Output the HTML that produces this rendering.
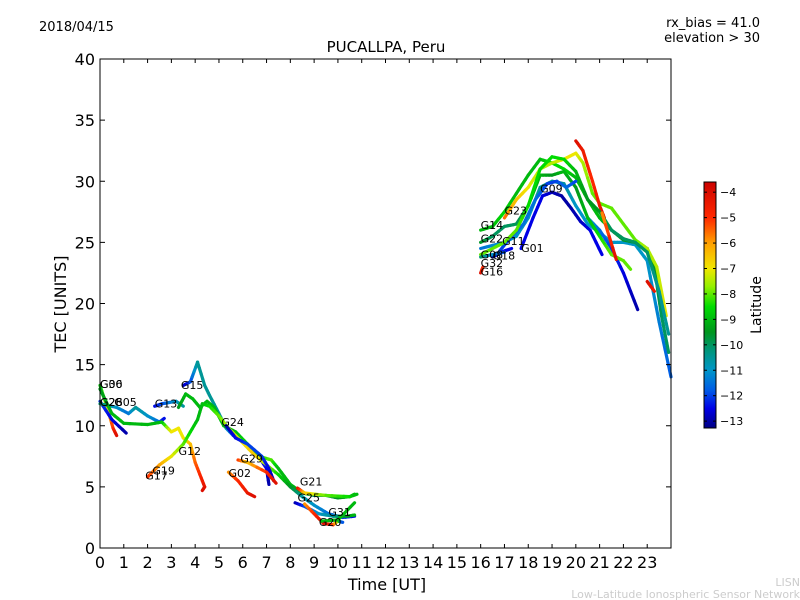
<!DOCTYPE html>
<html><head><meta charset="utf-8"><style>
body{margin:0;background:#fff;}
svg{display:block;font-family:"DejaVu Sans","Liberation Sans",sans-serif;}
</style></head><body>
<svg id="chart" width="800" height="600">
<rect width="800" height="600" fill="#fff"/>
<text x="39" y="31" font-size="13">2018/04/15</text>
<text x="760" y="27" font-size="13" text-anchor="end">rx_bias = 41.0</text>
<text x="760" y="42" font-size="13" text-anchor="end">elevation &gt; 30</text>
<text x="386" y="52" font-size="15" text-anchor="middle">PUCALLPA, Peru</text>
<g id="marks"></g>
<g id="labels"></g>
<rect x="100" y="59" width="571" height="489" fill="none" stroke="#000" stroke-width="1"/>
<g id="axes"></g>
<text x="387" y="590" font-size="16" text-anchor="middle">Time [UT]</text>
<text transform="translate(66,304) rotate(-90)" font-size="16" text-anchor="middle">TEC [UNITS]</text>
<g id="cbar"></g>
<text transform="translate(761,305) rotate(-90)" font-size="14" text-anchor="middle">Latitude</text>
<text x="800" y="586" font-size="11" fill="#ccc" text-anchor="end">LISN</text>
<text x="800" y="598" font-size="11" fill="#ccc" text-anchor="end">Low-Latitude Ionospheric Sensor Network</text>
</svg>
<script>
const xTicks=[0,1,2,3,4,5,6,7,8,9,10,11,12,13,14,15,16,17,18,19,20,21,22,23];
const yTicks=[0,5,10,15,20,25,30,35,40];
const cbTicks=[-4,-5,-6,-7,-8,-9,-10,-11,-12,-13];
const trackNames=["G30","G26","G05","G06","G13","G15","G12","G17","G24","G29","G02","G21","G25","G20","G31",
"G09","G01","G01b","G14","G23","G05r","G22","G11","G07","G18","G16","G08","G23b","G10"];
const trackTimes=[
[0,0.3,0.55,0.7],
[0,0.5,1.1],
[0,0.7,1.2,1.5,2,2.5,2.7],
[0,0.5,1,2,2.6,3,3.3,3.5,3.8,4,4.2,4.4,4.3],
[2.3,2.6,3.2,3.5],
[3.5,3.8,4.1,4.4,4.6,5,5.3,5.6,6,6.5,7,7.1],
[3.3,3.6,3.9,4.2,4.5,4.8,5.2,5.7,6.2,6.7,7.2,7.5,8,8.5,9,9.5,10,10.5,10.8],
[2,2.5,3,3.5,3.8,4.1,4.3,4.6,5,5.4,6,6.5,7,7.5,8,8.5,9,9.6,10.2,10.7],
[5.3,5.7,6.2,6.8,7.1,7.3],
[5.8,6.2,7,7.4],
[5.4,5.8,6.2,6.5],
[8.3,8.6,9.5,10.5,10.7],
[8.2,8.6,9.2,9.8,10.4,10.7],
[8.6,9,9.4,9.8,10,10.2],
[9.3,10,10.7],
[17.7,18.2,18.6,19,19.4,19.8,20.2,20.6,21.1],
[16,17,17.5,18,18.5,19,19.5,20,20.5,21,21.5,22,22.5,23,23.5,24],
[20.5,21,21.5,22,22.6],
[16,16.5,17,17.5,18,18.5,19,19.5,20,20.5,21,21.5,22,22.5,23,23.3,23.6,23.9],
[17,17.5,18,18.5,19,19.5,20,20.3,20.7,21,21.5,22,22.5,23,23.4,23.8],
[20,20.3,20.7,21,21.2],
[16,16.5,17,17.5,18,18.5,19,19.5,20,20.5,21,21.5,22,22.3],
[16.8,17.3,17.8,18.3,18.8,19.2,19.6,20],
[16,16.5,17,17.5,18,18.5,19,19.5,20,20.5,21,21.5,22,22.5,23,23.5,23.9],
[16.5,17,17.3],
[16,16.1],
[16,16.5,17],
[21.1,21.7],
[23,23.3]
];
const trackTec=[
[13.3,11.5,9.8,9.2],
[12,10.5,9.4],
[11.8,11.5,11,11.5,10.8,10.3,10.6],
[13,11,10.2,10.1,10.3,9.5,9.8,9,8.5,7,6,5,4.7],
[11.6,11.8,12,11.6],
[13.3,13.6,15.2,13.3,12.5,11,9.8,9.2,8.7,8,6.5,5.2],
[11.5,12.6,12.2,11.5,12,11.5,10,9.5,8.5,7.5,7.2,6.5,5.2,4.5,4.3,4.3,4.1,4.2,4.4],
[5.8,6.8,7.5,8.5,9.5,10.5,11.8,11.6,10.8,9.8,8.6,7.6,6.8,6,5,4.2,3.5,2.8,2.5,2.6],
[10,9,8.5,7.5,6.5,5.5],
[7.2,7,6.2,5.3],
[6.2,5.5,4.5,4.2],
[4.9,4.5,4.3,4.2,4.4],
[3.7,3.4,2.8,2.6,2.6,2.7],
[3.6,2.8,2,1.9,2.2,2.1],
[2.2,2.3,3.7],
[24.5,27,28.8,29.1,28.8,27.8,26.7,26,24],
[24.5,25,25.5,27,29.5,30,29.8,28,26.5,25.8,25,25,24.8,23.5,18.5,14],
[27,26,24.5,22.5,19.5],
[26,26.3,27.5,29,30.5,31.8,31.5,31,30.3,28.5,27,26,25.2,25,24.5,23,19,16],
[27,28.5,29.5,31,31.5,31.8,32.3,31.5,29,28.2,27.8,26.5,25.2,24.5,23,19],
[33.3,32.5,30,28,27],
[25,25.5,26.3,26.5,28,30.5,30.5,30.8,29.5,27,25.5,24,23.5,22.8],
[24.3,25.5,26.5,28.5,29.8,30,29.5,30],
[24,24.5,25,26,28,31,32,31.8,30.8,28.5,27.5,26,25.3,25,24.2,21,17.5],
[23.8,24.3,24.5],
[22.5,23],
[23.8,24,24.2],
[27.4,23.6],
[21.8,21]
];
const trackLat=[
[-9,-7,-5,-4],
[-12,-12.5,-13],
[-10,-11,-11.5,-10.5,-11,-11.5,-12.5],
[-9.5,-9,-9,-9,-9,-7,-7,-7,-6.5,-5.5,-5,-4.3,-4],
[-12.5,-12,-11,-10.5],
[-13,-12,-10.5,-10.5,-10.5,-10.5,-11,-11.5,-12,-12,-12.5,-13],
[-9.5,-9,-9,-9,-9,-9,-9,-9,-8.5,-8.5,-8,-9,-9,-9.5,-10,-10,-9.5,-9,-9],
[-5,-6,-7,-8,-8.5,-9,-9,-8.5,-8,-7.5,-7,-6.5,-7.5,-8.5,-9.5,-10.5,-11,-11.5,-12,-12.5],
[-13,-12.5,-12,-12,-12.5,-13],
[-5,-6.5,-5,-4],
[-6,-5,-4.5,-4],
[-4,-6.5,-8,-8.5,-9],
[-13,-12,-11,-10.5,-9.5,-9],
[-6,-5,-4,-5,-7,-12.5],
[-9,-9,-9],
[-12.5,-12.5,-12.5,-12.8,-13,-13,-12.8,-12.5,-12.5],
[-11.5,-11,-11,-11,-10.5,-10.5,-10.5,-11,-11,-11,-11,-11,-11,-11,-11.3,-11.8],
[-11,-11.5,-12,-12.5,-13],
[-9,-9,-8.5,-9,-9,-9,-8.5,-8.5,-9,-9,-9,-9.5,-9.5,-9.5,-9,-9.5,-10,-10],
[-5.5,-6.5,-7,-7.5,-7.5,-7,-7,-7.5,-8,-8,-8,-8,-8,-7.5,-7.5,-7],
[-4,-4.5,-5,-4.5,-4],
[-9.5,-10,-10,-10,-9.5,-9,-9.5,-9,-9.5,-9,-8.5,-8,-8,-8],
[-12,-12,-11.5,-11.5,-12,-12,-11.5,-12],
[-8,-8,-8,-8,-8.5,-8.5,-8.5,-8.5,-9,-9.5,-9.5,-10,-10,-10,-10,-10.5,-10.5],
[-13,-12.5,-12.5],
[-4,-5],
[-10,-11,-12],
[-6,-4],
[-4,-4.5]
];
const satLabels=["G30","G06","G26","G28","G05","G13","G15","G24","G12","G19","G17","G29","G02","G21","G25","G31","G20",
"G14","G23","G22","G11","G01","G09","G08","G18","G32","G16"];
const labelT=[0,0,0,0,0.6,2.3,3.4,5.1,3.3,2.2,1.9,5.9,5.4,8.4,8.3,9.6,9.2,16,17,16,16.9,17.7,18.5,16,16.5,16,16];
const labelV=[13.1,13.1,11.6,11.6,11.6,11.5,13.0,10.0,7.6,6.0,5.6,7.0,5.8,5.1,3.8,2.6,1.8,26.1,27.3,25.0,24.8,24.2,29.1,23.7,23.6,23.0,22.3];

const NS="http://www.w3.org/2000/svg";
const X0=100,X1=671,Y0=548,Y1=59;
function sx(t){return X0+t*(X1-X0)/24;}
function sy(v){return Y0-v*(Y0-Y1)/40;}
const cStops=[[-13.3,[0,0,128]],[-12.5,[0,0,230]],[-11.8,[0,90,230]],[-11,[0,150,200]],[-10.2,[0,150,120]],[-9.5,[0,150,30]],[-8.5,[0,220,0]],[-7.7,[150,240,0]],[-7,[240,230,0]],[-6,[255,160,0]],[-5,[255,40,0]],[-3.5,[200,0,0]]];
function cmap(l){
  if(l<=cStops[0][0])return "rgb("+cStops[0][1]+")";
  for(let i=1;i<cStops.length;i++){
    if(l<=cStops[i][0]){const a=cStops[i-1],b=cStops[i];const f=(l-a[0])/(b[0]-a[0]);
      const c=a[1].map((v,k)=>Math.round(v+(b[1][k]-v)*f));return "rgb("+c.join(",")+")";}
  }
  return "rgb("+cStops[cStops.length-1][1]+")";
}
const marks=document.getElementById('marks');
for(let i=0;i<trackTimes.length;i++){
  const g=document.createElementNS(NS,'g');
  
  
  const T=trackTimes[i],V=trackTec[i],L=trackLat[i];
  for(let j=0;j<T.length-1;j++){
    const steps=4;
    for(let s=0;s<steps;s++){
      const f0=s/steps,f1=(s+1)/steps;
      const ln=document.createElementNS(NS,'line');
      ln.setAttribute('x1',sx(T[j]+(T[j+1]-T[j])*f0));ln.setAttribute('y1',sy(V[j]+(V[j+1]-V[j])*f0));
      ln.setAttribute('x2',sx(T[j]+(T[j+1]-T[j])*f1));ln.setAttribute('y2',sy(V[j]+(V[j+1]-V[j])*f1));
      ln.setAttribute('stroke',cmap(L[j]+(L[j+1]-L[j])*(f0+f1)/2));
      ln.setAttribute('stroke-width','3.2');ln.setAttribute('stroke-linecap','round');
      
      
      g.appendChild(ln);
    }
  }
  marks.appendChild(g);
}
const labels=document.getElementById('labels');
for(let i=0;i<satLabels.length;i++){
  const t=document.createElementNS(NS,'text');
  t.setAttribute('x',sx(labelT[i]));t.setAttribute('y',sy(labelV[i]));
  t.setAttribute('font-size','11');t.textContent=satLabels[i];
  
  
  labels.appendChild(t);
}
const axes=document.getElementById('axes');
function add(parent,tag,attrs,txt){const e=document.createElementNS(NS,tag);for(const k in attrs)e.setAttribute(k,attrs[k]);if(txt!==undefined)e.textContent=txt;parent.appendChild(e);return e;}
xTicks.forEach(v=>{
  const x=sx(v);
  const a=add(axes,'line',{x1:x,y1:Y0,x2:x,y2:Y0-4,stroke:'#000'});
  
  
  const b=add(axes,'line',{x1:x,y1:Y1,x2:x,y2:Y1+4,stroke:'#000'});
  
  
  const t=add(axes,'text',{x:x,y:568,'font-size':16,'text-anchor':'middle'},String(v));
  
  
});
yTicks.forEach(v=>{
  const y=sy(v);
  const a=add(axes,'line',{x1:X0,y1:y,x2:X0+5,y2:y,stroke:'#000'});
  
  
  const b=add(axes,'line',{x1:X1,y1:y,x2:X1-5,y2:y,stroke:'#000'});
  
  
  const t=add(axes,'text',{x:95,y:y+6,'font-size':16,'text-anchor':'end'},String(v));
  
  
});
const cb=document.getElementById('cbar');
const CB0=182,CB1=428,CBX=704,CBW=12,LTOP=-3.6,LBOT=-13.27;
function cy(l){return CB0+(LTOP-l)*(CB1-CB0)/(LTOP-LBOT);}
for(let p=CB0;p<CB1;p++){
  const l=LTOP-(p-CB0+0.5)*(LTOP-LBOT)/(CB1-CB0);
  const r=add(cb,'rect',{x:CBX,y:p,width:CBW,height:1.2,fill:cmap(l)});
  
  
}
const fr=add(cb,'rect',{x:CBX,y:CB0,width:CBW,height:CB1-CB0,fill:'none',stroke:'#000'});


cbTicks.forEach(v=>{
  const y=cy(v);
  const a=add(cb,'line',{x1:CBX,y1:y,x2:CBX+3,y2:y,stroke:'#000'});
  
  
  const b=add(cb,'line',{x1:CBX+CBW,y1:y,x2:CBX+CBW-3,y2:y,stroke:'#000'});
  
  
  const t=add(cb,'text',{x:720,y:y+4,'font-size':11},'\u2212'+Math.abs(v));
  
  
});
</script>
</body></html>
